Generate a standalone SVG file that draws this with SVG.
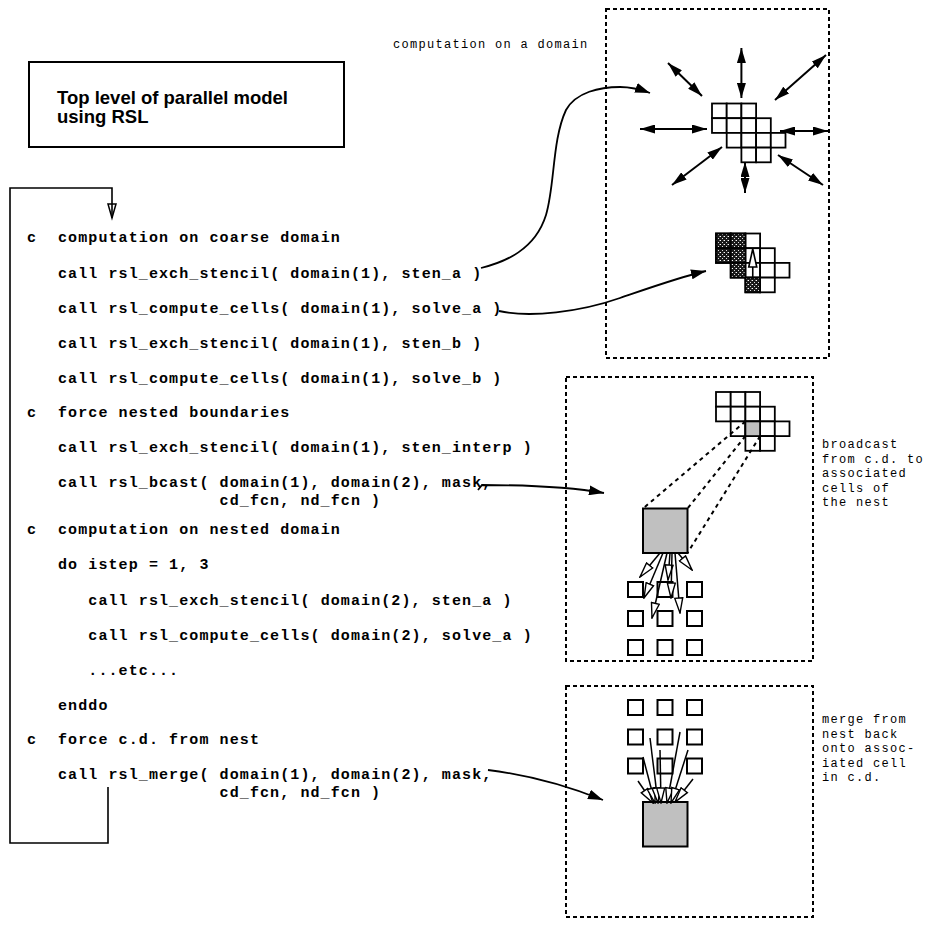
<svg xmlns="http://www.w3.org/2000/svg" width="930" height="926" viewBox="0 0 930 926">
<style>
.code{font-family:"Liberation Mono","Courier New",monospace;font-weight:bold;font-size:15px;letter-spacing:1.1px;fill:#000}
.note{font-family:"Liberation Mono","Courier New",monospace;font-size:12px;letter-spacing:1.3px;fill:#000}
.title{font-family:"Liberation Sans",Arial,sans-serif;font-weight:bold;font-size:18.5px;fill:#000}
.box{fill:none;stroke:#000;stroke-width:2}
.dash{fill:none;stroke:#000;stroke-width:2;stroke-dasharray:4 3}
.ddash{fill:none;stroke:#000;stroke-width:2;stroke-dasharray:4 4}
.ln{fill:none;stroke:#000;stroke-width:1.6}
.dbl{fill:none;stroke:#000;stroke-width:2;marker-start:url(#fh);marker-end:url(#fh)}
.cell{fill:#fff;stroke:#000;stroke-width:1.8}
.hat{fill:url(#hatch);stroke:#000;stroke-width:1.8}
.gray{fill:#c0c0c0;stroke:#000;stroke-width:1.8}
.sq{fill:#fff;stroke:#000;stroke-width:2}
.big{fill:#c0c0c0;stroke:#000;stroke-width:2}
.open{fill:none;stroke:#000;stroke-width:1.5;marker-end:url(#oh)}
.curve{fill:none;stroke:#000;stroke-width:1.8;marker-end:url(#ah)}
</style>
<defs>
<marker id="fh" viewBox="0 0 15 9" refX="15" refY="4.5" markerWidth="15" markerHeight="9" markerUnits="userSpaceOnUse" orient="auto-start-reverse"><path d="M0,0 L15,4.5 L0,9 z" fill="#000"/></marker>
<marker id="ah" viewBox="0 0 15 10" refX="15" refY="5" markerWidth="15" markerHeight="10" markerUnits="userSpaceOnUse" orient="auto"><path d="M0,0 L15,5 L0,10 z" fill="#000"/></marker>
<marker id="oh" viewBox="-1 -1 17 10" refX="15" refY="4" markerWidth="17" markerHeight="10" markerUnits="userSpaceOnUse" orient="auto"><path d="M0,0 L15,4 L0,8 z" fill="#fff" stroke="#000" stroke-width="1.4"/></marker>
<pattern id="hatch" width="4" height="4" patternUnits="userSpaceOnUse"><rect width="4" height="4" fill="#1a1a1a"/><rect x="0" y="0" width="1" height="1" fill="#fff"/><rect x="2" y="2" width="1" height="1" fill="#ddd"/><rect x="3" y="0" width="1" height="1" fill="#777"/></pattern>
<g id="shape">
<rect class="cell" x="0" y="0" width="14.7" height="14.7"/>
<rect class="cell" x="14.7" y="0" width="14.7" height="14.7"/>
<rect class="cell" x="29.4" y="0" width="14.7" height="14.7"/>
<rect class="cell" x="0" y="14.7" width="14.7" height="14.7"/>
<rect class="cell" x="14.7" y="14.7" width="14.7" height="14.7"/>
<rect class="cell" x="29.4" y="14.7" width="14.7" height="14.7"/>
<rect class="cell" x="44.1" y="14.7" width="14.7" height="14.7"/>
<rect class="cell" x="14.7" y="29.4" width="14.7" height="14.7"/>
<rect class="cell" x="29.4" y="29.4" width="14.7" height="14.7"/>
<rect class="cell" x="44.1" y="29.4" width="14.7" height="14.7"/>
<rect class="cell" x="58.8" y="29.4" width="14.7" height="14.7"/>
<rect class="cell" x="29.4" y="44.1" width="14.7" height="14.7"/>
<rect class="cell" x="44.1" y="44.1" width="14.7" height="14.7"/>
</g>
</defs>
<rect width="930" height="926" fill="#fff"/>

<g id="title">
<rect class="box" x="29" y="62" width="315" height="85"/>
<text class="title" x="57" y="104">Top level of parallel model</text>
<text class="title" x="57" y="123">using RSL</text>
</g>

<g id="code">
<text class="code" x="27" y="242">c</text><text class="code" x="58" y="242">computation on coarse domain</text>
<text class="code" x="58" y="277.5">call rsl_exch_stencil( domain(1), sten_a )</text>
<text class="code" x="58" y="313">call rsl_compute_cells( domain(1), solve_a )</text>
<text class="code" x="58" y="348">call rsl_exch_stencil( domain(1), sten_b )</text>
<text class="code" x="58" y="383">call rsl_compute_cells( domain(1), solve_b )</text>
<text class="code" x="27" y="417">c</text><text class="code" x="58" y="417">force nested boundaries</text>
<text class="code" x="58" y="452">call rsl_exch_stencil( domain(1), sten_interp )</text>
<text class="code" x="58" y="487">call rsl_bcast( domain(1), domain(2), mask,</text>
<text class="code" x="219.6" y="505">cd_fcn, nd_fcn )</text>
<text class="code" x="27" y="534">c</text><text class="code" x="58" y="534">computation on nested domain</text>
<text class="code" x="58" y="569">do istep = 1, 3</text>
<text class="code" x="88.3" y="605">call rsl_exch_stencil( domain(2), sten_a )</text>
<text class="code" x="88.3" y="640">call rsl_compute_cells( domain(2), solve_a )</text>
<text class="code" x="88.3" y="675">...etc...</text>
<text class="code" x="58" y="710">enddo</text>
<text class="code" x="27" y="744">c</text><text class="code" x="58" y="744">force c.d. from nest</text>
<text class="code" x="58" y="779">call rsl_merge( domain(1), domain(2), mask,</text>
<text class="code" x="219.6" y="797">cd_fcn, nd_fcn )</text>
</g>

<g id="domain-compute">
<rect class="dash" x="606" y="9" width="223" height="349"/>
<text class="note" x="393" y="48">computation on a domain</text>
<use href="#shape" x="712" y="103.5"/>
<use href="#shape" x="716" y="233.5"/>
<rect class="hat" x="716" y="233.5" width="14.7" height="14.7"/>
<rect class="hat" x="730.7" y="233.5" width="14.7" height="14.7"/>
<rect class="hat" x="716" y="248.2" width="14.7" height="14.7"/>
<rect class="hat" x="730.7" y="248.2" width="14.7" height="14.7"/>
<rect class="hat" x="730.7" y="262.9" width="14.7" height="14.7"/>
<rect class="hat" x="745.4" y="277.6" width="14.7" height="14.7"/>
<line class="ln" x1="752.75" y1="266" x2="752.75" y2="278"/>
<polygon points="752.75,249 748.75,267 756.75,267" fill="#fff" stroke="#000" stroke-width="1.6"/>
</g>

<g id="domain-bcast">
<rect class="dash" x="566" y="377" width="247" height="284"/>
<use href="#shape" x="716" y="392"/>
<rect class="gray" x="745.4" y="421.4" width="14.7" height="14.7"/>
<rect class="big" x="643" y="508.5" width="44.5" height="44.5"/>
<rect class="sq" x="628" y="582" width="15" height="15"/>
<rect class="sq" x="657.5" y="582" width="15" height="15"/>
<rect class="sq" x="687" y="582" width="15" height="15"/>
<rect class="sq" x="628" y="611" width="15" height="15"/>
<rect class="sq" x="657.5" y="611" width="15" height="15"/>
<rect class="sq" x="687" y="611" width="15" height="15"/>
<rect class="sq" x="628" y="640" width="15" height="15"/>
<rect class="sq" x="657.5" y="640" width="15" height="15"/>
<rect class="sq" x="687" y="640" width="15" height="15"/>
<text class="note" x="822" y="448">broadcast</text>
<text class="note" x="822" y="462.5">from c.d. to</text>
<text class="note" x="822" y="477">associated</text>
<text class="note" x="822" y="491.5">cells of</text>
<text class="note" x="822" y="506">the nest</text>
</g>

<g id="domain-merge">
<rect class="dash" x="566" y="686" width="247" height="231"/>
<rect class="sq" x="628" y="700" width="15" height="15"/>
<rect class="sq" x="657.5" y="700" width="15" height="15"/>
<rect class="sq" x="687" y="700" width="15" height="15"/>
<rect class="sq" x="628" y="729.5" width="15" height="15"/>
<rect class="sq" x="657.5" y="729.5" width="15" height="15"/>
<rect class="sq" x="687" y="729.5" width="15" height="15"/>
<rect class="sq" x="628" y="758.5" width="15" height="15"/>
<rect class="sq" x="657.5" y="758.5" width="15" height="15"/>
<rect class="sq" x="687" y="758.5" width="15" height="15"/>
<rect class="big" x="643" y="802" width="44.5" height="44.5"/>
<text class="note" x="822" y="723">merge from</text>
<text class="note" x="822" y="737.5">nest back</text>
<text class="note" x="822" y="752">onto assoc-</text>
<text class="note" x="822" y="766.5">iated cell</text>
<text class="note" x="822" y="781">in c.d.</text>
</g>

<g id="connectors">
<path class="ln" d="M108,787 V843 H10 V188 H112 V218"/>
<polygon points="108,204 116,204 112,218" fill="none" stroke="#000" stroke-width="1.5"/>
<path class="curve" d="M481,268 C505,262 535,250 546,215 C555,185 552,140 566,110 C576,92 600,87 620,87 C632,87 642,90 650,93"/>
<path class="curve" d="M499,311 C530,318 580,312 620,298 C655,286 680,277 706,271"/>
<path class="curve" d="M478,490 L482,485 C520,485 565,486 604,493"/>
<path class="curve" d="M488,770 Q545,777 603,800"/>
<line class="dbl" x1="741.4" y1="48" x2="741.4" y2="98"/>
<line class="dbl" x1="702" y1="96" x2="668" y2="63"/>
<line class="dbl" x1="775" y1="100" x2="826" y2="55"/>
<line class="dbl" x1="640" y1="129" x2="707" y2="129"/>
<line class="dbl" x1="780" y1="131" x2="828" y2="131"/>
<line class="dbl" x1="722" y1="147" x2="672" y2="185"/>
<line class="dbl" x1="745" y1="162" x2="745" y2="193"/>
<line class="dbl" x1="778" y1="155" x2="823" y2="185"/>
<line class="ddash" x1="745.4" y1="421.4" x2="643" y2="508.5"/>
<line class="ddash" x1="745.4" y1="436.1" x2="687.5" y2="508.5"/>
<line class="ddash" x1="760.1" y1="436.1" x2="687.5" y2="553"/>
<line class="open" x1="660" y1="553" x2="640" y2="577"/>
<line class="open" x1="663" y1="553" x2="644" y2="598"/>
<line class="open" x1="667" y1="553" x2="652" y2="618"/>
<line class="open" x1="670" y1="553" x2="668" y2="580"/>
<line class="open" x1="672" y1="553" x2="671" y2="598"/>
<line class="open" x1="675" y1="553" x2="680" y2="613"/>
<line class="open" x1="678" y1="553" x2="692" y2="570"/>
<line class="open" x1="638" y1="781" x2="653" y2="803"/>
<line class="open" x1="643" y1="757" x2="655" y2="803"/>
<line class="open" x1="650" y1="738" x2="658" y2="803"/>
<line class="open" x1="660" y1="750" x2="661" y2="803"/>
<line class="open" x1="680" y1="732" x2="667" y2="803"/>
<line class="open" x1="688" y1="750" x2="671" y2="803"/>
<line class="open" x1="693" y1="779" x2="675" y2="802"/>
</g>
</svg>
